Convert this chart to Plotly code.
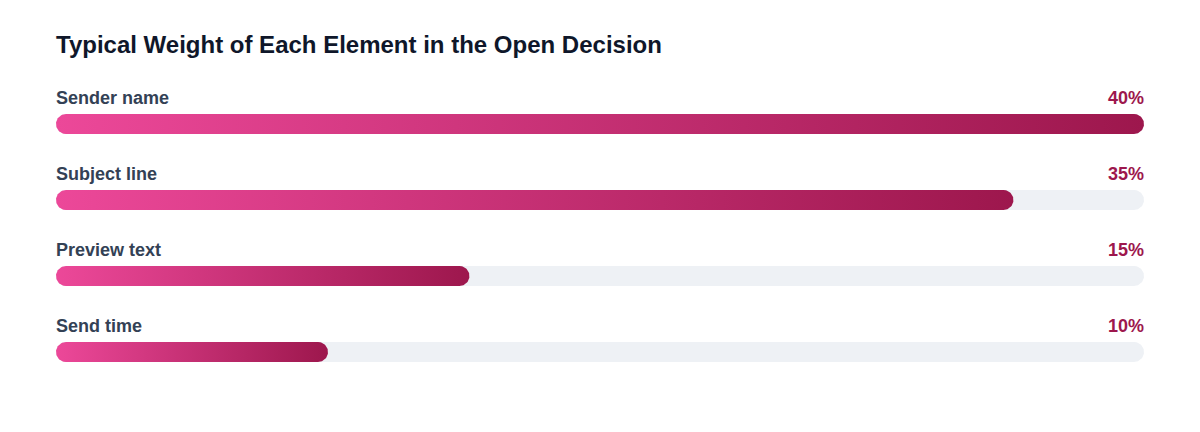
import math
import numpy as np
import plotly.graph_objects as go

# ---- data ----
categories = ["Sender name", "Subject line", "Preview text", "Send time"]
weights = [40, 35, 15, 10]
value_labels = ["40%", "35%", "15%", "10%"]
scale_max = 40
title = "Typical Weight of Each Element in the Open Decision"

# ---- layout constants ----
W, H = 1200, 432
ML, MR = 56, 56
plot_w = W - ML - MR
row0, row_gap = 124, 76
bar_h = 20
label_offset = 26
px_per_unit = 100 / plot_w  # x axis runs 0..100 (% of track)

def stadium(x0, x1, yc, h):
    r_px = h / 2
    rx = r_px * px_per_unit
    t1 = np.linspace(np.pi / 2, 3 * np.pi / 2, 40)
    t2 = np.linspace(-np.pi / 2, np.pi / 2, 40)
    left_x = x0 + rx + rx * np.cos(t1)
    left_y = yc - r_px * np.sin(t1)
    right_x = x1 - rx + rx * np.cos(t2)
    right_y = yc - r_px * np.sin(t2)
    xs = np.concatenate([left_x, right_x, left_x[:1]])
    ys = np.concatenate([left_y, right_y, left_y[:1]])
    return xs, ys

fig = go.Figure()
annotations = []
font_fam = "Liberation Sans, Arial, Helvetica, sans-serif"

for i, (cat, v, lab) in enumerate(zip(categories, weights, value_labels)):
    yc = row0 + i * row_gap
    fill_pct = math.floor(v / scale_max * 100 + 0.5)
    tx, ty = stadium(0, 100, yc, bar_h)
    fig.add_trace(go.Scatter(x=tx, y=ty, mode="lines", fill="toself",
                             fillcolor="#EEF1F5", line=dict(width=0),
                             hoverinfo="skip", showlegend=False))
    bx, by = stadium(0, fill_pct, yc, bar_h)
    fig.add_trace(go.Scatter(x=bx, y=by, mode="lines", fill="toself",
                             fillgradient=dict(type="horizontal",
                                               colorscale=[[0, "#EC4899"], [1, "#9D174D"]]),
                             line=dict(width=0), hoverinfo="skip", showlegend=False))
    annotations.append(dict(x=0, y=yc - label_offset, xref="x", yref="y",
                            text=f"<b>{cat}</b>", showarrow=False, xshift=-2,
                            xanchor="left", yanchor="middle",
                            font=dict(family=font_fam, size=18, color="#334155")))
    annotations.append(dict(x=100, y=yc - label_offset, xref="x", yref="y",
                            text=f"<b>{lab}</b>", showarrow=False, xshift=2,
                            xanchor="right", yanchor="middle",
                            font=dict(family=font_fam, size=18, color="#9D174D")))

annotations.append(dict(x=0, y=44, xref="x", yref="y", text=f"<b>{title}</b>",
                        showarrow=False, xanchor="left", yanchor="middle", xshift=-2,
                        font=dict(family=font_fam, size=24, color="#0F172A")))

fig.update_layout(
    width=W, height=H,
    margin=dict(l=ML, r=MR, t=0, b=0),
    paper_bgcolor="white", plot_bgcolor="white",
    xaxis=dict(range=[0, 100], visible=False, fixedrange=True),
    yaxis=dict(range=[H, 0], visible=False, fixedrange=True),
    annotations=annotations,
    showlegend=False,
)

fig.write_html("out.html")
